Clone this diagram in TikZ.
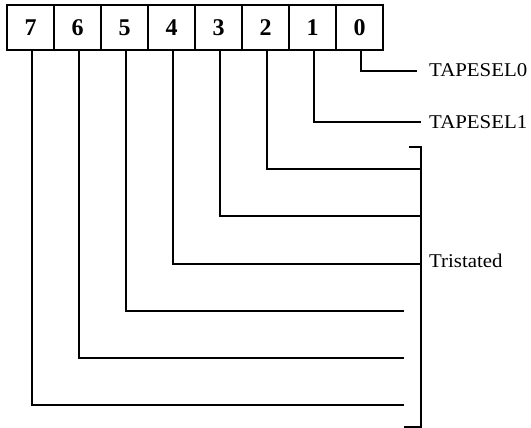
\documentclass[tikz,border=0pt]{standalone}
\usepackage{fontspec}
\setmainfont{Liberation Serif}
\newcommand{\widen}[1]{\scalebox{1.07}[1]{#1}}
\tikzset{
  bitbox/.style={draw, line width=1.3pt, minimum width=47pt, minimum height=45pt, inner sep=0pt, font=\fontsize{24}{28}\selectfont\bfseries},
  siglabel/.style={anchor=west, inner sep=0pt, font=\fontsize{19.5}{23}\selectfont},
  busline/.style={line width=1.3pt}
}
\begin{document}
\begin{tikzpicture}[x=1pt, y=-1pt]
  \useasboundingbox (0,0) rectangle (531,428);
  % register bits, 7 down to 0
  \foreach \b [count=\i from 0] in {7,6,5,4,3,2,1,0}
    \node[bitbox] (b\b) at (30.5+47*\i, 27.5) {\b};
  \node[siglabel] (sel0) at (429,70) {\widen{TAPESEL0}};
  \node[siglabel] (sel1) at (429,122) {\widen{TAPESEL1}};
  \node[siglabel] (tri) at (429,261) {\widen{Tristated}};
  % line ends
  \coordinate (e0) at (417,71);
  \coordinate (e1) at (421,122);
  \coordinate (e2) at (421,169);
  \coordinate (e3) at (421,216);
  \coordinate (e4) at (421,264);
  \coordinate (e5) at (404,311);
  \coordinate (e6) at (404,358);
  \coordinate (e7) at (404,405);
  \foreach \b in {0,...,7}
    \draw[busline] ([xshift=1.5pt]b\b.south) |- (e\b);
  % bracket
  \draw[busline] (409,147) -- (421,147) -- (421,427) -- (404,427);
\end{tikzpicture}
\end{document}
